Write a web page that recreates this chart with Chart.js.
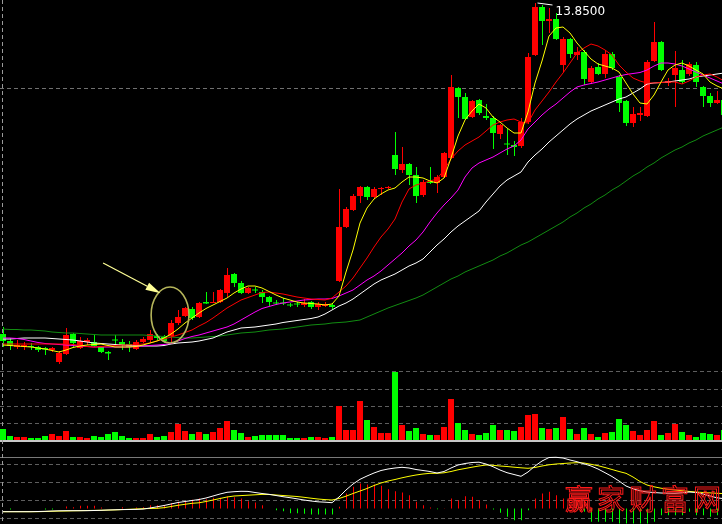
<!DOCTYPE html>
<html>
<head>
<meta charset="utf-8">
<script src="https://cdn.jsdelivr.net/npm/chart.js@4.4.1/dist/chart.umd.min.js"></script>
<style>
  html, body { margin: 0; padding: 0; background: #000; width: 722px; height: 524px; overflow: hidden; }
  body { position: relative; }
  canvas { position: absolute; left: 0; display: block; }
  #mark {
    position: absolute; left: 565px; top: 478px;
    font: 28px "Noto Sans CJK SC", sans-serif; letter-spacing: 4px;
    color: transparent; -webkit-text-stroke: 1px #ff1a1a; white-space: nowrap;
  }
</style>
</head>
<body>
<canvas id="priceChart" width="722" height="366" style="top:0"></canvas>
<canvas id="volumeChart" width="722" height="74" style="top:366px"></canvas>
<canvas id="macdChart" width="722" height="84" style="top:440px"></canvas>
<div id="mark">赢家财富网</div>
<script>
// ---- daily bars ----
const open = [7.23,7.09,6.97,6.97,6.99,6.97,6.95,6.91,6.67,6.83, 7.23,6.95,7.07,7.07,6.97,6.87,7.12,7.07,7.03,6.93,
  7.07,7.11,7.19,7.17,7.19,7.45,7.59,7.73,7.57,7.87, 7.85,7.87,8.05,8.43,8.25,8.05,8.12,8.07,7.97,7.86,
  7.86,7.82,7.84,7.81,7.87,7.77,7.79,7.81,8.29,9.37, 9.71,9.99,10.17,9.97,10.13,10.15,10.81,10.51,10.63,10.41,
  10.01,10.27,10.25,10.37,10.75,12.15,11.97,11.57,11.91,11.59, 11.55,11.23,11.04,11.01,10.99,11.47,12.81,13.77,13.49,13.53,
  12.61,13.13,12.81,12.87,12.27,12.57,12.43,12.83,12.37,11.89, 11.45,11.61,11.59,12.69,13.07,12.25,12.41,12.51,12.43,12.61,
  12.17,11.99,11.85,11.91];
const close = [7.09,6.99,7.01,7.01,6.97,6.91,6.92,6.95,6.85,7.21, 7.05,7.09,7.11,6.99,6.87,6.84,7.10,7.01,6.97,7.07,
  7.13,7.23,7.15,7.09,7.45,7.57,7.75,7.55,7.85,7.84, 7.87,8.11,8.41,8.25,8.05,8.15,8.10,7.97,7.87,7.84,
  7.84,7.80,7.82,7.85,7.77,7.83,7.83,7.77,9.37,9.73, 9.99,10.17,9.97,10.13,10.15,10.17,10.53,10.63,10.41,9.99,
  10.27,10.25,10.37,10.85,12.17,11.97,11.53,11.89,11.65,11.55, 11.25,11.41,11.02,10.97,11.47,12.77,13.77,13.49,13.53,13.13,
  13.13,12.83,12.87,12.33,12.55,12.43,12.83,12.55,11.85,11.45, 11.63,11.65,12.67,13.07,12.51,12.29,12.55,12.27,12.63,12.27,
  11.99,11.85,11.91,11.61];
const high = [7.37,7.15,7.11,7.07,7.05,6.99,6.97,6.97,6.89,7.35, 7.25,7.17,7.15,7.21,6.99,6.89,7.21,7.13,7.09,7.11,
  7.17,7.31,7.23,7.21,7.51,7.71,7.77,7.77,7.87,8.07, 8.07,8.13,8.55,8.45,8.29,8.17,8.17,8.11,7.99,7.91,
  7.95,7.85,7.87,7.93,7.89,7.87,7.87,7.85,10.13,9.77, 10.03,10.19,10.19,10.17,10.17,10.19,11.27,10.97,10.65,10.57,
  10.31,10.57,10.41,10.87,12.41,12.17,12.05,11.91,11.93,11.83, 11.59,11.43,11.33,11.09,11.55,12.85,13.85,13.81,13.75,13.65,
  13.17,13.15,12.97,12.91,12.59,12.65,12.91,12.87,12.41,11.91, 11.77,11.77,12.71,13.47,13.09,12.35,12.89,12.71,12.67,12.67,
  12.19,12.05,12.09,11.95];
const low = [6.97,6.91,6.93,6.91,6.91,6.87,6.81,6.87,6.63,6.81, 6.97,6.93,7.01,6.97,6.85,6.71,7.01,6.91,6.87,6.91,
  7.05,7.05,7.11,7.05,7.07,7.41,7.57,7.51,7.55,7.83, 7.85,7.85,7.97,8.17,8.03,8.03,8.05,7.85,7.79,7.81,
  7.81,7.77,7.77,7.77,7.73,7.71,7.77,7.73,8.27,9.35, 9.69,9.85,9.91,9.93,10.01,10.13,10.41,10.45,10.21,9.85,
  9.97,10.23,10.05,10.35,10.73,11.55,11.51,11.55,11.61,11.51, 10.93,11.13,10.81,10.79,10.95,11.43,12.79,13.01,13.25,13.11,
  12.47,12.75,12.71,12.21,12.23,12.41,12.35,12.51,11.67,11.39, 11.37,11.49,11.57,12.67,12.49,12.19,11.77,12.23,12.39,12.17,
  11.77,11.77,11.83,11.57];

// ---- moving averages ----
const ma5 = [7.01,7.00,6.99,6.98,6.97,6.95,6.93,6.90,6.87,6.91, 6.96,6.99,7.01,7.02,7.03,7.00,6.97,6.97,6.97,6.98,
  7.01,7.05,7.09,7.15,7.23,7.33,7.45,7.55,7.65,7.74, 7.81,7.88,7.95,8.05,8.13,8.19,8.19,8.15,8.08,8.01,
  7.95,7.91,7.87,7.85,7.84,7.83,7.81,7.83,7.99,8.47, 8.91,9.45,9.75,9.93,10.03,10.11,10.15,10.27,10.37,10.37,
  10.35,10.29,10.25,10.35,10.75,11.19,11.51,11.69,11.83,11.75, 11.57,11.47,11.35,11.25,11.25,11.67,12.25,12.69,13.19,13.35,
  13.37,13.25,13.05,12.89,12.73,12.63,12.59,12.55,12.47,12.25, 12.03,11.85,11.83,12.01,12.27,12.51,12.61,12.65,12.59,12.51,
  12.43,12.27,12.19,12.13];
const ma10 = [7.03,7.03,7.03,7.03,7.03,7.03,7.03,7.03,7.03,7.03, 7.02,7.00,6.98,6.97,6.98,6.99,7.00,7.01,7.01,7.02,
  7.03,7.05,7.09,7.13,7.17,7.21,7.26,7.31,7.39,7.46, 7.55,7.65,7.75,7.83,7.91,7.96,8.01,8.06,8.07,8.05,
  8.03,8.00,7.97,7.95,7.93,7.92,7.91,7.95,8.07,8.19, 8.35,8.55,8.75,8.97,9.17,9.33,9.53,9.87,10.13,10.21,
  10.25,10.29,10.33,10.51,10.73,10.89,11.01,11.09,11.17,11.29, 11.41,11.47,11.51,11.53,11.47,11.45,11.71,11.89,12.07,12.27,
  12.45,12.65,12.85,12.95,13.03,12.99,12.91,12.81,12.61,12.47, 12.35,12.29,12.25,12.25,12.26,12.27,12.27,12.23,12.29,12.37,
  12.41,12.43,12.37,12.29];
const ma20 = [7.15,7.15,7.14,7.12,7.09,7.06,7.04,7.03,7.02,7.01, 7.00,6.99,6.98,6.97,6.97,6.97,6.97,6.97,6.97,6.98,
  6.99,7.00,7.01,7.02,7.04,7.09,7.14,7.18,7.21,7.25, 7.29,7.33,7.37,7.43,7.51,7.59,7.67,7.74,7.78,7.82,
  7.85,7.87,7.89,7.91,7.92,7.93,7.93,7.94,7.99,8.05, 8.11,8.21,8.31,8.39,8.49,8.61,8.73,8.85,8.99,9.11,
  9.27,9.47,9.65,9.81,9.95,10.11,10.37,10.55,10.65,10.71, 10.77,10.85,10.93,10.99,11.11,11.33,11.47,11.61,11.73,11.83,
  11.95,12.07,12.17,12.21,12.24,12.27,12.31,12.35,12.39,12.42, 12.44,12.46,12.51,12.59,12.65,12.65,12.63,12.59,12.53,12.47,
  12.41,12.35,12.29,12.23];
const ma30 = [7.13,7.13,7.14,7.15,7.15,7.15,7.15,7.14,7.13,7.12, 7.11,7.09,7.07,7.05,7.04,7.03,7.02,7.01,7.00,6.99,
  6.99,6.99,6.99,7.00,7.03,7.05,7.06,7.07,7.09,7.12, 7.15,7.21,7.27,7.31,7.35,7.36,7.37,7.39,7.41,7.43,
  7.46,7.48,7.50,7.52,7.54,7.57,7.63,7.71,7.79,7.85, 7.93,8.03,8.13,8.23,8.31,8.37,8.43,8.51,8.59,8.65,
  8.73,8.87,9.01,9.13,9.27,9.39,9.49,9.59,9.69,9.87, 10.03,10.19,10.31,10.39,10.47,10.67,10.81,10.93,11.07,11.19,
  11.31,11.43,11.53,11.61,11.69,11.75,11.81,11.87,11.93,11.97, 12.05,12.13,12.23,12.25,12.26,12.27,12.29,12.31,12.33,12.37,
  12.39,12.41,12.43,12.45];
const ma60 = [7.33,7.32,7.32,7.31,7.31,7.30,7.29,7.27,7.26,7.25, 7.25,7.24,7.23,7.22,7.21,7.21,7.21,7.21,7.21,7.21,
  7.21,7.20,7.19,7.18,7.17,7.16,7.15,7.15,7.16,7.17, 7.18,7.19,7.21,7.23,7.25,7.26,7.27,7.29,7.31,7.32,
  7.33,7.35,7.37,7.39,7.41,7.42,7.43,7.45,7.46,7.47, 7.49,7.51,7.57,7.63,7.69,7.75,7.80,7.85,7.90,7.95,
  8.01,8.09,8.17,8.25,8.33,8.39,8.47,8.53,8.59,8.65, 8.71,8.79,8.85,8.93,9.01,9.07,9.15,9.23,9.31,9.39,
  9.47,9.57,9.65,9.75,9.83,9.93,10.01,10.11,10.19,10.29, 10.39,10.47,10.57,10.65,10.75,10.83,10.91,10.97,11.05,11.11,
  11.19,11.25,11.31,11.37];

// ---- volume (hands) ----
const volume = [11000,4000,3000,3000,2000,2000,4000,6000,4000,9000, 3000,3000,2000,4000,3000,6000,8000,4000,2000,2000,
  2000,6000,3000,4000,8000,16000,9000,6000,8000,6000, 8000,12000,19000,10000,7000,3000,4000,5000,5000,5000,
  5000,2000,2000,2000,3000,3000,2000,3000,34000,10000, 10000,39000,20000,13000,7000,7000,68000,15000,9000,12000,
  6000,5000,5000,13000,41000,17000,10000,6000,5000,7000, 15000,10000,10000,9000,13000,25000,26000,12000,11000,12000,
  23000,11000,6000,12000,6000,3000,7000,8000,21000,15000, 9000,5000,10000,19000,5000,7000,16000,8000,5000,3000,
  7000,6000,5000,10000];

// ---- MACD ----
const dif = [-0.032,-0.032,-0.032,-0.032,-0.032,-0.030,-0.028,-0.025,-0.023,-0.022, -0.022,-0.022,-0.022,-0.020,-0.018,-0.015,-0.013,-0.011,-0.010,-0.009,
  -0.006,0.005,0.017,0.030,0.045,0.060,0.070,0.080,0.090,0.105, 0.125,0.145,0.162,0.168,0.172,0.171,0.160,0.150,0.142,0.130,
  0.118,0.108,0.097,0.085,0.075,0.067,0.063,0.058,0.115,0.185, 0.245,0.292,0.325,0.355,0.380,0.395,0.405,0.412,0.405,0.390,
  0.380,0.370,0.355,0.370,0.405,0.435,0.450,0.460,0.463,0.445, 0.418,0.385,0.358,0.340,0.322,0.365,0.425,0.475,0.510,0.512,
  0.505,0.485,0.468,0.447,0.425,0.395,0.358,0.320,0.275,0.225, 0.197,0.177,0.165,0.160,0.155,0.153,0.152,0.157,0.165,0.160,
  0.145,0.125,0.107,0.098];
const dea = [-0.032,-0.032,-0.032,-0.032,-0.032,-0.032,-0.030,-0.028,-0.026,-0.025, -0.023,-0.022,-0.020,-0.019,-0.018,-0.016,-0.014,-0.011,-0.008,-0.005,
  -0.002,0.000,0.002,0.008,0.020,0.032,0.042,0.052,0.057,0.070, 0.085,0.100,0.115,0.125,0.129,0.133,0.137,0.141,0.140,0.135,
  0.130,0.125,0.120,0.112,0.103,0.095,0.089,0.085,0.100,0.123, 0.150,0.175,0.200,0.230,0.255,0.275,0.290,0.307,0.322,0.335,
  0.345,0.352,0.352,0.357,0.370,0.387,0.400,0.413,0.425,0.435, 0.432,0.425,0.420,0.413,0.407,0.402,0.410,0.425,0.437,0.445,
  0.450,0.455,0.458,0.455,0.442,0.428,0.410,0.390,0.370,0.352, 0.315,0.270,0.235,0.217,0.203,0.192,0.185,0.178,0.171,0.165,
  0.160,0.156,0.152,0.149];
const macd = [0,-0.01,0,0,0,0,-0.01,-0.01,0,0.02, 0.013,0.027,0.027,0.027,0.01,0,0,0.013,0,0.01,
  0.013,0.033,0.033,0.033,0.053,0.067,0.073,0.087,0.10,0.093, 0.107,0.107,0.12,0.113,0.10,0.073,0.06,0.033,0,-0.017,
  -0.027,-0.047,-0.047,-0.053,-0.06,-0.06,-0.06,-0.06,0.017,0.15, 0.217,0.25,0.24,0.24,0.227,0.193,0.173,0.16,0.133,0.067,
  0.033,0.01,-0.007,0.003,0.10,0.083,0.123,0.117,0.083,0.04, -0.01,-0.043,-0.083,-0.117,-0.117,-0.017,0.10,0.15,0.167,0.133,
  0.10,0.033,-0.01,-0.033,-0.133,-0.133,-0.133,-0.133,-0.15,-0.15, -0.15,-0.15,-0.15,-0.133,-0.067,-0.067,-0.067,-0.067,-0.033,-0.067,
  -0.067,-0.083,-0.067,-0.067];

// ---- reference levels ----
const priceGuides = [12.14];
const volumeGuides = [17000, 34000, 51000, 68000];
const macdSolidGuides = [0.51];
const macdDashGuides = [0.44, 0.26, 0.08, -0.10];
const cursorIndex = -0.1;

// ---- hand-drawn note: ellipse around the breakout start and an arrow pointing at it ----
const noteEllipse = { index: 23.86, price: 7.61, rIndex: 2.7, rPrice: 0.56 };
const noteArrow = { fromIndex: 14.3, fromPrice: 8.65, toIndex: 22.5, toPrice: 8.045 };

// ---- drawing ----
const UP = '#ff0000', DOWN = '#00ff00';
const SLOT = 7;                        // px per trading day
const X_MIN = -3 / SLOT;
const X_MAX = X_MIN + 722 / SLOT;
const rising = open.map((o, i) => close[i] >= o);
const candleColors = rising.map(r => r ? UP : DOWN);

function xScales() {
  return {
    x:  { type: 'linear', offset: false, min: X_MIN, max: X_MAX, display: false },
    xw: { type: 'linear', offset: false, min: X_MIN - 0.5 / SLOT, max: X_MAX - 0.5 / SLOT, display: false }
  };
}

const guides = {
  id: 'guides',
  beforeDatasetsDraw(chart, args, opts) {
    const { ctx, chartArea, scales } = chart;
    ctx.save();
    ctx.lineWidth = 1;
    (opts.lines || []).forEach(g => {
      const y = Math.floor(scales.y.getPixelForValue(g.value)) + 0.5;
      ctx.strokeStyle = g.color;
      ctx.setLineDash(g.dash || []);
      ctx.beginPath(); ctx.moveTo(chartArea.left, y); ctx.lineTo(chartArea.right, y); ctx.stroke();
    });
    if (opts.band) {
      ctx.fillStyle = opts.band.color;
      ctx.fillRect(0, 0, chart.width, opts.band.height);
    }
    const x = Math.floor(scales.x.getPixelForValue(cursorIndex)) + 0.5;
    ctx.strokeStyle = '#9a9a9a';
    ctx.setLineDash([4, 3]);
    ctx.beginPath(); ctx.moveTo(x, 0); ctx.lineTo(x, chart.height); ctx.stroke();
    ctx.restore();
  }
};

const highLabel = {
  id: 'highLabel',
  afterDatasetsDraw(chart) {
    const { ctx, scales } = chart;
    let k = 0;
    high.forEach((h, i) => { if (h > high[k]) k = i; });
    const px = scales.xw.getPixelForValue(k);
    const py = scales.y.getPixelForValue(high[k]);
    ctx.save();
    ctx.strokeStyle = '#ffffff';
    ctx.lineWidth = 1;
    ctx.beginPath(); ctx.moveTo(px + 2, py); ctx.lineTo(px + 17, py + 2); ctx.stroke();
    ctx.fillStyle = '#ffffff';
    ctx.font = '12px "DejaVu Sans"';
    ctx.textBaseline = 'alphabetic';
    ctx.fillText(high[k].toFixed(4), px + 20, py + 12);
    ctx.restore();
  }
};

const noteMarks = {
  id: 'noteMarks',
  afterDatasetsDraw(chart) {
    const { ctx, scales } = chart;
    const x = scales.x, y = scales.y;
    ctx.save();
    // ellipse
    const cx = x.getPixelForValue(noteEllipse.index);
    const cy = y.getPixelForValue(noteEllipse.price);
    const rx = x.getPixelForValue(noteEllipse.index + noteEllipse.rIndex) - cx;
    const ry = cy - y.getPixelForValue(noteEllipse.price + noteEllipse.rPrice);
    ctx.strokeStyle = '#b4b45a';
    ctx.lineWidth = 1.6;
    ctx.beginPath(); ctx.ellipse(cx, cy, rx, ry, 0, 0, Math.PI * 2); ctx.stroke();
    // arrow
    const x0 = x.getPixelForValue(noteArrow.fromIndex), y0 = y.getPixelForValue(noteArrow.fromPrice);
    const x1 = x.getPixelForValue(noteArrow.toIndex), y1 = y.getPixelForValue(noteArrow.toPrice);
    const ang = Math.atan2(y1 - y0, x1 - x0);
    const head = 15, half = 4;
    const bx = x1 - head * Math.cos(ang), by = y1 - head * Math.sin(ang);
    ctx.strokeStyle = '#ffff96';
    ctx.fillStyle = '#ffff96';
    ctx.lineWidth = 1.2;
    ctx.beginPath(); ctx.moveTo(x0, y0); ctx.lineTo(bx, by); ctx.stroke();
    ctx.beginPath();
    ctx.moveTo(x1, y1);
    ctx.lineTo(bx + half * Math.sin(ang), by - half * Math.cos(ang));
    ctx.lineTo(bx - half * Math.sin(ang), by + half * Math.cos(ang));
    ctx.closePath(); ctx.fill();
    ctx.restore();
  }
};

const common = {
  responsive: false, animation: false, devicePixelRatio: 1, events: [],
  layout: { padding: 0 },
  elements: { point: { radius: 0 }, line: { borderWidth: 1, tension: 0 } }
};

function maLine(values, color, order) {
  return {
    type: 'line', data: values.map((v, i) => ({ x: i, y: v })),
    borderColor: color, borderWidth: 1, pointRadius: 0, order,
    xAxisID: 'x', yAxisID: 'y'
  };
}

new Chart(document.getElementById('priceChart'), {
  type: 'bar',
  data: {
    datasets: [
      maLine(ma5, '#ffff00', 0),
      maLine(ma10, '#ff0000', 1),
      maLine(ma20, '#ff00ff', 2),
      maLine(ma30, '#ffffff', 3),
      maLine(ma60, '#128c12', 4),
      {
        data: open.map((o, i) => ({ x: i, y: [o, close[i]] })),
        backgroundColor: candleColors, barThickness: 6, minBarLength: 1,
        grouped: false, inflateAmount: 0, borderWidth: 0, order: 5,
        xAxisID: 'x', yAxisID: 'y'
      },
      {
        data: low.map((l, i) => ({ x: i, y: [l, high[i]] })),
        backgroundColor: candleColors, barThickness: 1,
        grouped: false, inflateAmount: 0, borderWidth: 0, order: 6,
        xAxisID: 'xw', yAxisID: 'y'
      }
    ]
  },
  options: Object.assign({}, common, {
    scales: Object.assign(xScales(), { y: { min: 13.91 - 366 * 0.02, max: 13.91, display: false } }),
    plugins: {
      legend: { display: false }, tooltip: { enabled: false },
      guides: { lines: priceGuides.map(v => ({ value: v, color: '#707070', dash: [4, 3] })) }
    }
  }),
  plugins: [guides, highLabel, noteMarks]
});

new Chart(document.getElementById('volumeChart'), {
  type: 'bar',
  data: {
    datasets: [{
      data: volume.map((v, i) => ({ x: i, y: v })),
      backgroundColor: candleColors, barThickness: 6,
      grouped: false, inflateAmount: 0, borderWidth: 0,
      xAxisID: 'x', yAxisID: 'y'
    }]
  },
  options: Object.assign({}, common, {
    scales: Object.assign(xScales(), { y: { min: 0, max: 74000, display: false } }),
    plugins: {
      legend: { display: false }, tooltip: { enabled: false },
      guides: { lines: volumeGuides.map(v => ({ value: v, color: '#5e5e5e', dash: [4, 3] })) }
    }
  }),
  plugins: [guides]
});

new Chart(document.getElementById('macdChart'), {
  type: 'bar',
  data: {
    datasets: [
      { type: 'line', data: dif.map((v, i) => ({ x: i, y: v })), borderColor: '#ffffff', borderWidth: 1, pointRadius: 0, order: 0, xAxisID: 'x', yAxisID: 'y' },
      { type: 'line', data: dea.map((v, i) => ({ x: i, y: v })), borderColor: '#ffff00', borderWidth: 1, pointRadius: 0, order: 1, xAxisID: 'x', yAxisID: 'y' },
      {
        data: macd.map((v, i) => ({ x: i, y: v })),
        backgroundColor: macd.map(v => v >= 0 ? UP : DOWN), barThickness: 1,
        grouped: false, inflateAmount: 0, borderWidth: 0, order: 2,
        xAxisID: 'xw', yAxisID: 'y'
      }
    ]
  },
  options: Object.assign({}, common, {
    layout: { padding: { top: 2 } },
    scales: Object.assign(xScales(), { y: { min: -0.155, max: 0.665, display: false } }),
    plugins: {
      legend: { display: false }, tooltip: { enabled: false },
      guides: {
        band: { color: '#c8c8c8', height: 2 },
        lines: macdSolidGuides.map(v => ({ value: v, color: '#7a7a7a' }))
          .concat(macdDashGuides.map(v => ({ value: v, color: '#5e5e5e', dash: [4, 3] })))
      }
    }
  }),
  plugins: [guides]
});
</script>
</body>
</html>
